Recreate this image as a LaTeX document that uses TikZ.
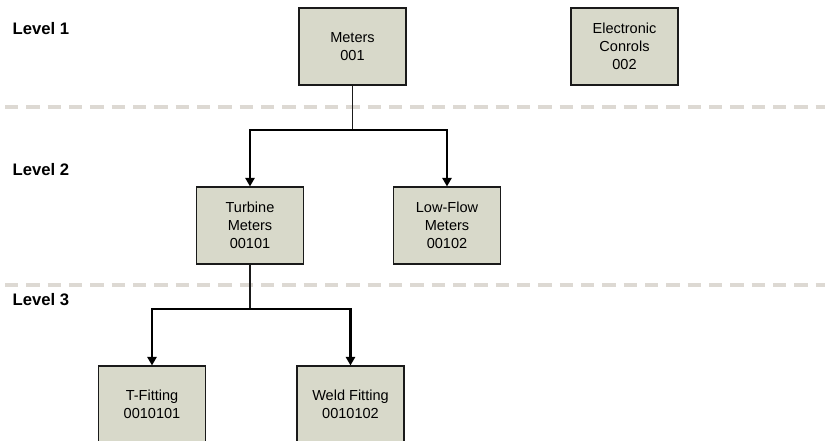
\documentclass[tikz,border=0pt]{standalone}
\usepackage{fontspec}
\setmainfont{Liberation Sans}
\usetikzlibrary{arrows.meta, positioning}
\definecolor{boxfill}{HTML}{D8D9CA}
\definecolor{boxline}{HTML}{1A1A1A}
\definecolor{levelgray}{HTML}{DDD9D3}

\begin{document}
\begin{tikzpicture}[
    x=0.75pt, y=-0.75pt,
    item/.style={rectangle, draw=boxline, line width=1.1pt, fill=boxfill,
                 minimum width=80pt, minimum height=57.5pt, align=center,
                 font=\fontsize{10.9}{13.4}\selectfont, inner sep=0pt},
    level/.style={anchor=west, font=\fontsize{12.5}{15}\selectfont\bfseries},
    divider/.style={levelgray, line width=3pt, dash pattern=on 10pt off 6pt},
    stem/.style={line width=0.8pt, color=boxline},
    arrow/.style={-{Triangle[length=6.5pt, width=7pt]}, line width=1.6pt, color=black}
]
\clip (0,0) rectangle (825,441);

% level labels and dividers
\node[level] (lev1) at (8,29)  {Level 1};
\node[level] (lev2) at (8,170) {Level 2};
\node[level] (lev3) at (8,300) {Level 3};
\draw[divider] (5,107) -- (825,107);
\draw[divider] (5,285) -- (825,285);

% items
\node[item] (meters)   at (352.5,46.5) {Meters\\001};
\node[item] (elec)     at (624.5,46.5) {Electronic\\Conrols\\002};
\node[item] (turbine)  at (250,225.5)  {Turbine\\Meters\\00101};
\node[item] (lowflow)  at (447,225.5)  {Low-Flow\\Meters\\00102};
\node[item] (tfit)     at (152,404.5)  {T-Fitting\\0010101};
\node[item] (weld)     at (350.5,404.5) {Weld Fitting\\0010102};

% branch points
\coordinate (split1) at (352.5,130);
\coordinate (split2) at (250,309);

\draw[stem] (meters) -- (split1);
\draw[arrow] (split1) -| (turbine);
\draw[arrow] (split1) -| (lowflow);
\draw[stem] (turbine) -- (split2);
\draw[arrow] (split2) -| (tfit);
\draw[arrow] (split2) -| (weld);
\end{tikzpicture}
\end{document}
